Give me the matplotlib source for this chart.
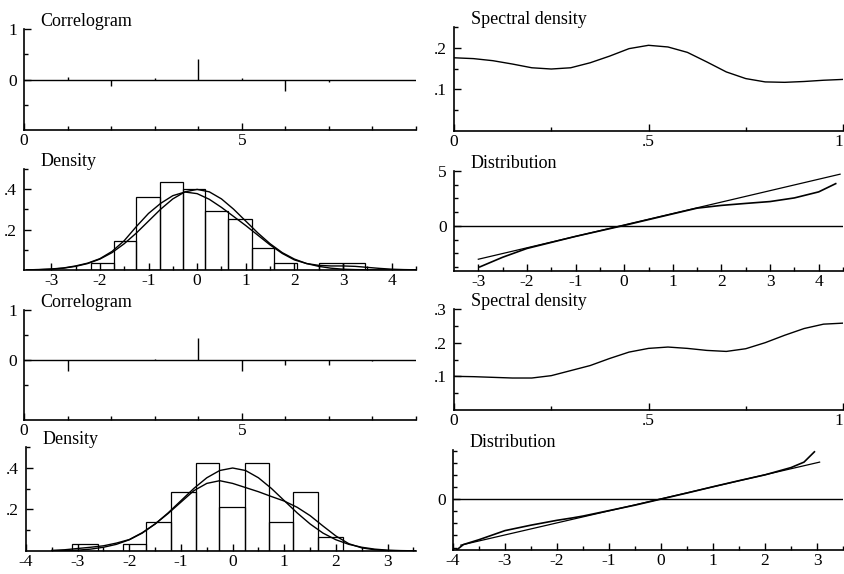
import numpy as np
import matplotlib
matplotlib.use("Agg")
import matplotlib.pyplot as plt

plt.rcParams['font.family'] = ['Liberation Serif', 'DejaVu Serif']
plt.rcParams['font.size'] = 12.5

# =============================================================================
# Data
# =============================================================================

# --- series 1
lags = [1, 2, 3, 4, 5, 6, 7, 8]
acf_1 = [0.05, -0.12, 0.03, 0.41, 0.02, -0.23, -0.05, 0.0]

spec_freq = [0, .05, .1, .15, .2, .25, .3, .35, .4, .45, .5,
             .55, .6, .65, .7, .75, .8, .85, .9, .95, 1.0]
spec_1 = [.176, .174, .169, .161, .152, .149, .152, .164, .180, .198, .206,
          .202, .189, .166, .142, .126, .118, .117, .119, .122, .124]

hist_edges_1 = [-2.18, -1.71, -1.25, -0.77, -0.29, 0.16, 0.64, 1.12,
                1.58, 2.05, 2.51, 2.99, 3.46]
hist_heights_1 = [0.033, 0.145, 0.363, 0.437, 0.40, 0.292, 0.253,
                  0.108, 0.033, 0.0, 0.033, 0.033]

dens_x = [-3.5, -3.25, -3.0, -2.75, -2.5, -2.25, -2.0, -1.75, -1.5, -1.25,
          -1.0, -0.75, -0.5, -0.25, 0.0, 0.25, 0.5, 0.75, 1.0, 1.25, 1.5,
          1.75, 2.0, 2.25, 2.5, 2.75, 3.0, 3.25, 3.5, 3.75, 4.0, 4.25, 4.5]
normal_ref = [.001, .002, .004, .009, .018, .032, .054, .086, .130, .183,
              .242, .301, .352, .387, .399, .387, .352, .301, .242, .183, .130,
              .086, .054, .032, .018, .009, .004, .002, .001, .0004, .0001, 0, 0]
kernel_1 = [.001, .002, .005, .010, .020, .034, .056, .092, .145, .215,
            .280, .330, .368, .386, .378, .350, .310, .265, .220, .172, .124,
            .082, .050, .032, .023, .020, .020, .018, .013, .008, .004, .002, .001]

qq_x_1 = [-2.97, -2.5, -2.0, -1.0, 0.0, 1.0, 1.5, 2.0, 2.5, 3.0, 3.5, 4.0, 4.35]
qq_emp_1 = [-3.73, -2.85, -2.05, -0.95, 0.05, 1.1, 1.62, 1.87, 2.05, 2.22, 2.55, 3.1, 3.85]
qq_line_x_1 = [-3.0, 4.44]
qq_line_y_1 = [-3.03, 4.71]

# --- series 2
acf_2 = [-0.21, 0.0, 0.03, 0.44, -0.21, -0.09, -0.09, -0.02]

spec_2 = [.100, .099, .097, .095, .095, .102, .117, .132, .153, .172, .183,
          .187, .183, .177, .174, .182, .200, .222, .242, .255, .258]

hist_edges_2 = [-3.10, -2.61, -2.13, -1.68, -1.19, -0.71, -0.26, 0.23,
                0.71, 1.17, 1.65, 2.13]
hist_heights_2 = [0.032, 0.0, 0.032, 0.14, 0.283, 0.424, 0.211, 0.424,
                  0.14, 0.283, 0.067]

kernel_2 = [.003, .006, .012, .018, .025, .038, .055, .088, .130, .180,
            .235, .290, .325, .338, .325, .305, .285, .262, .240, .210, .170,
            .120, .072, .035, .015, .006, .002, .001, 0, 0, 0, 0, 0]

qq_x_2 = [-3.93, -3.8, -3.5, -3.0, -2.5, -2.0, -1.7, -1.5, -1.0, -0.5,
          0.0, 0.5, 1.0, 1.5, 2.0, 2.5, 2.75, 2.95]
qq_emp_2 = [-4.2, -3.75, -3.35, -2.6, -2.15, -1.75, -1.55, -1.4, -0.95, -0.5,
            0.0, 0.5, 1.02, 1.52, 2.0, 2.6, 3.05, 3.9]
qq_line_x_2 = [-3.85, 3.05]
qq_line_y_2 = [-3.8, 3.05]

# =============================================================================
# Figure helpers
# =============================================================================

W, H = 845, 574
fig = plt.figure(figsize=(W / 100, H / 100), dpi=100)


def px_axes(x0, y0, x1, y1):
    ax = fig.add_axes([x0 / W, 1 - y1 / H, (x1 - x0) / W, (y1 - y0) / H])
    ax.patch.set_alpha(0)
    for side in ['top', 'right']:
        ax.spines[side].set_visible(False)
    for side in ['left', 'bottom']:
        ax.spines[side].set_linewidth(1.2)
    ax.tick_params(which='major', direction='in', length=5, width=1.0,
                   labelsize=12.5)
    ax.tick_params(which='minor', direction='in', length=3, width=1.0)
    ax.tick_params(axis='y', pad=5)
    ax.tick_params(axis='x', pad=2.5)
    return ax


def title(ax, text):
    # baseline just above the top of the y axis, descenders hang below
    ax.annotate(text, xy=(0, 1), xycoords='axes fraction',
                xytext=(12, 2.5), textcoords='offset points',
                ha='left', va='baseline', fontsize=13)


def correlogram(ax, acf, ylim):
    ax.set_xlim(0, 9)
    ax.set_ylim(*ylim)
    ax.axhline(0, color='black', lw=1.0)
    ax.vlines(lags, 0, acf, color='black', lw=1.0)
    ax.set_xticks([0, 5])
    ax.set_xticklabels(['0', '5'])
    ax.set_xticks([1, 2, 3, 4, 6, 7, 8, 9], minor=True)
    ax.set_yticks([0, 1])
    ax.set_yticklabels(['0', '1'])
    ax.set_yticks([-0.5, 0.5], minor=True)
    title(ax, 'Correlogram')


def spectral(ax, vals, top):
    ax.set_xlim(0, 1)
    ax.set_ylim(0, top)
    ax.plot(spec_freq, vals, color='black', lw=1.0)
    ax.set_xticks([0, 0.5, 1])
    ax.set_xticklabels(['0', '.5', '1'])
    ax.get_xticklabels()[-1].set_horizontalalignment('right')
    ax.set_xticks([0.25, 0.75], minor=True)
    if top > 0.26:
        ax.set_yticks([0.1, 0.2, 0.3])
        ax.set_yticklabels(['.1', '.2', '.3'])
    else:
        ax.set_yticks([0.1, 0.2])
        ax.set_yticklabels(['.1', '.2'])
    ax.set_yticks([0.05, 0.15, 0.25], minor=True)
    title(ax, 'Spectral density')


def density(ax, edges, heights, kernel, xlim, xt):
    ax.set_xlim(*xlim)
    ax.set_ylim(0, 0.5)
    ax.bar(edges[:-1], heights, width=np.diff(edges), align='edge',
           fill=False, edgecolor='black', lw=0.9)
    ax.plot(dens_x, normal_ref, color='black', lw=1.0)
    ax.plot(dens_x, kernel, color='black', lw=1.0)
    ax.set_xticks(xt)
    ax.set_xticklabels([str(v) for v in xt])
    ax.set_xticks([v + 0.5 for v in xt], minor=True)
    ax.set_yticks([0.2, 0.4])
    ax.set_yticklabels(['.2', '.4'])
    ax.set_yticks([0.1, 0.3, 0.5], minor=True)
    title(ax, 'Density')


def distribution(ax, qx, qy, lx, ly, xlim, ylim, xt, yt, ylab, ym):
    ax.set_xlim(*xlim)
    ax.set_ylim(*ylim)
    ax.axhline(0, color='black', lw=1.0)
    ax.plot(lx, ly, color='black', lw=0.9)
    ax.plot(qx, qy, color='black', lw=1.2)
    ax.set_xticks(xt)
    ax.set_xticklabels([str(v) for v in xt])
    ax.set_xticks([v + 0.5 for v in xt], minor=True)
    ax.set_yticks(yt)
    ax.set_yticklabels(ylab)
    ax.set_yticks(ym, minor=True)
    title(ax, 'Distribution')


# =============================================================================
# Panels
# =============================================================================

ax = px_axes(24, 29, 416, 130)
correlogram(ax, acf_1, (-1, 1))

ax = px_axes(454, 27, 843, 131)
spectral(ax, spec_1, 0.25)

ax = px_axes(24, 169, 416, 270)
density(ax, hist_edges_1, hist_heights_1, kernel_1, (-3.56, 4.44),
        [-3, -2, -1, 0, 1, 2, 3, 4])

ax = px_axes(454, 171, 843, 271)
distribution(ax, qq_x_1, qq_emp_1, qq_line_x_1, qq_line_y_1,
             (-3.5, 4.47), (-4.1, 5), [-3, -2, -1, 0, 1, 2, 3, 4],
             [0, 5], ['0', '5'], [-3.75, -2.5, -1.25, 1.25, 2.5, 3.75])

ax = px_axes(24, 310, 416, 420)
correlogram(ax, acf_2, (-1.2, 1))

ax = px_axes(454, 309, 843, 410)
spectral(ax, spec_2, 0.3)

ax = px_axes(26, 447, 416, 551)
density(ax, hist_edges_2, hist_heights_2, kernel_2, (-4, 3.55),
        [-4, -3, -2, -1, 0, 1, 2, 3])

ax = px_axes(453, 450, 843, 550)
distribution(ax, qq_x_2, qq_emp_2, qq_line_x_2, qq_line_y_2,
             (-4, 3.47), (-4.2, 4.05), [-4, -3, -2, -1, 0, 1, 2, 3],
             [0], ['0'], [-4, -3, -2, -1, 1, 2, 3, 4])

fig.savefig('out.png', dpi=100)
